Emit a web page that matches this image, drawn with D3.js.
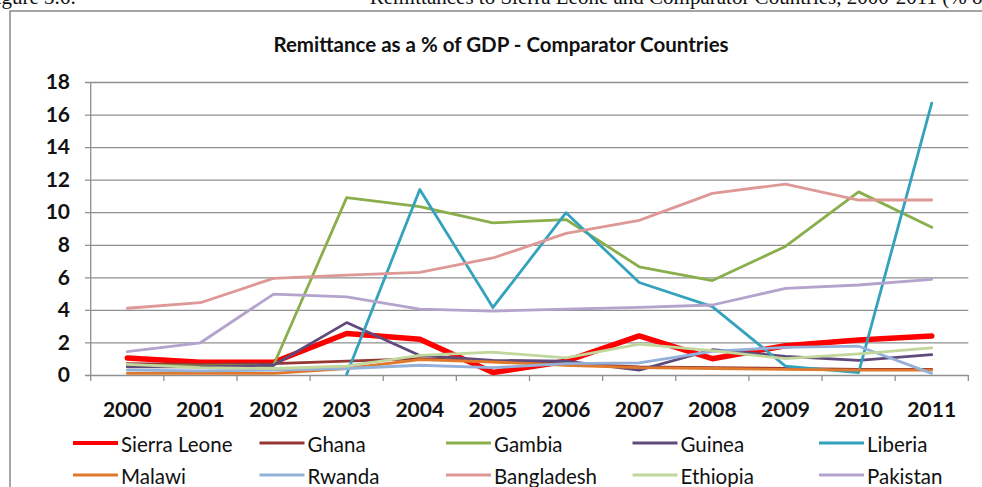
<!DOCTYPE html>
<html>
<head>
<meta charset="utf-8">
<script src="https://cdn.jsdelivr.net/npm/d3@7"></script>
<style>
  html, body { margin: 0; padding: 0; background: #ffffff; overflow: hidden; }
  svg { display: block; }
</style>
</head>
<body>
<div id="chart"></div>
<script>
// Remittances as a share of GDP, 2000-2011
const years = ["2000","2001","2002","2003","2004","2005","2006","2007","2008","2009","2010","2011"];
const yTicks = [0, 2, 4, 6, 8, 10, 12, 14, 16, 18];

const sierraLeone = [1.05, 0.78, 0.78, 2.55, 2.2, 0.15, 0.85, 2.4, 1.0, 1.8, 2.15, 2.4];
const ghana       = [0.7, 0.65, 0.7, 0.85, 1.0, 0.85, 0.7, 0.5, 0.45, 0.4, 0.35, 0.35];
const gambia      = [0.6, 0.55, 0.6, 10.9, 10.35, 9.35, 9.55, 6.65, 5.8, 7.9, 11.25, 9.07];
const guinea      = [0.5, 0.5, 0.6, 3.22, 1.2, 0.9, 0.85, 0.3, 1.55, 1.15, 0.9, 1.25];
const liberia     = [null, null, null, 0.05, 11.4, 4.15, 9.97, 5.68, 4.2, 0.55, 0.15, 16.7];
const malawi      = [0.1, 0.1, 0.1, 0.4, 0.95, 0.8, 0.6, 0.45, 0.4, 0.35, 0.3, 0.3];
const rwanda      = [0.3, 0.25, 0.3, 0.4, 0.6, 0.45, 0.7, 0.75, 1.45, 1.7, 1.77, 0.1];
const bangladesh  = [4.1, 4.44, 5.94, 6.14, 6.31, 7.19, 8.7, 9.5, 11.16, 11.73, 10.75, 10.75];
const ethiopia    = [0.65, 0.45, 0.4, 0.55, 1.2, 1.4, 1.05, 1.9, 1.5, 1.0, 1.3, 1.66];
const pakistan    = [1.43, 1.98, 4.97, 4.8, 4.05, 3.93, 4.05, 4.15, 4.3, 5.32, 5.53, 5.88];

const countries = ["Sierra Leone","Ghana","Gambia","Guinea","Liberia","Malawi","Rwanda","Bangladesh","Ethiopia","Pakistan"];
const seriesValues = [sierraLeone, ghana, gambia, guinea, liberia, malawi, rwanda, bangladesh, ethiopia, pakistan];
const colors = ["#ff0000","#953735","#8aae4c","#604a7b","#35a2bd","#e0792c","#93b1d9","#de9896","#c2d79c","#b4a3cc"];
const widths = [5.5, 2.8, 2.8, 2.8, 2.8, 2.8, 2.8, 2.8, 2.8, 2.8];

const W = 982, H = 487;
const svg = d3.select("#chart").append("svg").attr("width", W).attr("height", H);
const FONT = "Lato, 'Open Sans', sans-serif";

// Caption line above the chart box (runs past the top edge of the page)
const capY = 4;
const cap = svg.append("g").attr("font-family", "'Liberation Serif', 'Times New Roman', serif")
  .attr("font-size", 21).attr("fill", "#111");
cap.append("text").attr("x", -16).attr("y", capY).text("Figure 3.6:");
const capRest = "Remittances to Sierra Leone and Comparator Countries, 2000-2011 ";
const probe = cap.append("text").attr("x", 0).attr("y", -100).text(capRest);
const restW = probe.node().getComputedTextLength();
probe.remove();
cap.append("text").attr("x", 937 - restW).attr("y", capY).text(capRest + "(% of GDP)");

// Chart box
svg.append("rect").attr("x", 10).attr("y", 11).attr("width", 1100).attr("height", 700)
  .attr("fill", "#ffffff").attr("stroke", "#8f8f8f").attr("stroke-width", 1.6);

// Title
svg.append("text").attr("x", 501).attr("y", 44)
  .attr("text-anchor", "middle").attr("dominant-baseline", "central")
  .attr("font-family", FONT).attr("font-weight", "bold").attr("font-size", 20.5)
  .attr("fill", "#111").text("Remittance as a % of GDP - Comparator Countries");

// Scales
const x = d3.scaleBand().domain(years).range([90.7, 968.3]).padding(0);
const y = d3.scaleLinear().domain([0, 18]).range([375, 82]);
const cx = d => x(d) + x.bandwidth() / 2;

// Horizontal gridlines + y labels
const yAxis = d3.axisLeft(y).tickValues(yTicks).tickSize(-(968.3 - 85)).tickPadding(15).tickFormat(d3.format("d"));
const gy = svg.append("g").attr("transform", "translate(85,0)").call(yAxis);
gy.select(".domain").remove();
gy.selectAll(".tick line").attr("stroke", "#8f8f8f").attr("stroke-width", 1.3);
gy.selectAll(".tick text").attr("font-family", FONT).attr("font-weight", "bold")
  .attr("font-size", 21).attr("fill", "#111");

// Vertical axis line
svg.append("line").attr("x1", 90.7).attr("x2", 90.7).attr("y1", y(18)).attr("y2", y(0))
  .attr("stroke", "#8f8f8f").attr("stroke-width", 1.3);

// Category axis with boundary ticks
const xAxis = d3.axisBottom(x).tickSize(0).tickPadding(27);
const gx = svg.append("g").attr("transform", `translate(0,${y(0)})`).call(xAxis);
gx.select(".domain").remove();
gx.selectAll(".tick text").attr("font-family", FONT).attr("font-weight", "bold")
  .attr("font-size", 21).attr("fill", "#111");
const bounds = years.map(d => x(d)).concat([x(years[years.length - 1]) + x.bandwidth()]);
svg.append("g").selectAll("line").data(bounds).join("line")
  .attr("x1", d => d).attr("x2", d => d).attr("y1", y(0)).attr("y2", y(0) + 6)
  .attr("stroke", "#8f8f8f").attr("stroke-width", 1.3);

// Series lines
const line = d3.line().defined(d => d.v !== null).x(d => cx(d.year)).y(d => y(d.v));
const series = countries.map((name, i) => ({
  name, color: colors[i], width: widths[i],
  points: years.map((yr, j) => ({ year: yr, v: seriesValues[i][j] }))
}));
svg.append("g").selectAll("path").data(series).join("path")
  .attr("d", s => line(s.points))
  .attr("fill", "none").attr("stroke", s => s.color).attr("stroke-width", s => s.width)
  .attr("stroke-linejoin", "round").attr("stroke-linecap", "round");

// Legend: two rows of five
const legend = svg.append("g");
const legX0 = 73, legDX = 186.5, legRows = [443, 475];
series.forEach((s, i) => {
  const col = i % 5, row = Math.floor(i / 5);
  const gx0 = legX0 + col * legDX, gy0 = legRows[row];
  legend.append("line").attr("x1", gx0).attr("x2", gx0 + 45).attr("y1", gy0).attr("y2", gy0)
    .attr("stroke", s.color).attr("stroke-width", i === 0 ? 4 : 3.2);
  legend.append("text").attr("x", gx0 + 48).attr("y", gy0 + 1).attr("dominant-baseline", "central")
    .attr("font-family", FONT).attr("font-size", 20.5).attr("fill", "#111").text(s.name);
});
</script>
</body>
</html>
